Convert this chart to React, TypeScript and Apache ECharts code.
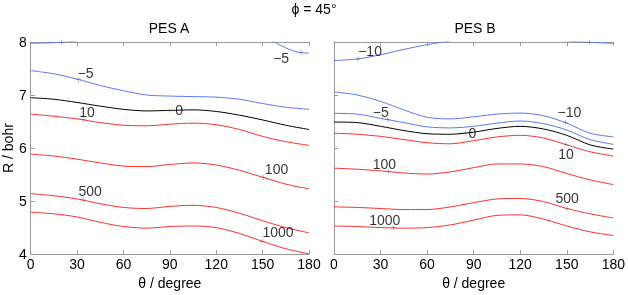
import React, { useEffect, useRef } from "react";
import * as echarts from "echarts";

// Tick labels
const thetaTicks = [0, 30, 60, 90, 120, 150, 180];
const rTicks = [4, 5, 6, 7, 8];

// PES A contour lines: [theta (deg), R (bohr)]
const aTopLeft = [[0, 7.975], [10, 7.982], [20, 7.995], [30, 8.02]];
const aMinus5Right = [[156, 8.02], [160, 7.96], [165, 7.89], [170, 7.83], [175, 7.8], [180, 7.79]];
const aMinus5 = [[0, 7.46], [15, 7.4], [30, 7.3], [45, 7.18], [60, 7.08], [75, 7.0], [90, 6.98], [105, 6.97], [120, 6.96], [135, 6.92], [150, 6.84], [165, 6.77], [180, 6.73]];
const aZero = [[0, 6.95], [15, 6.92], [30, 6.86], [45, 6.79], [60, 6.73], [75, 6.7], [90, 6.71], [105, 6.72], [120, 6.69], [135, 6.62], [150, 6.53], [165, 6.43], [180, 6.35]];
const aTen = [[0, 6.64], [15, 6.6], [30, 6.55], [45, 6.48], [60, 6.43], [75, 6.42], [90, 6.45], [105, 6.47], [120, 6.44], [135, 6.35], [150, 6.22], [165, 6.12], [180, 6.05]];
const aHundred = [[0, 5.885], [15, 5.85], [30, 5.79], [45, 5.72], [60, 5.66], [75, 5.65], [90, 5.69], [105, 5.72], [120, 5.68], [135, 5.58], [150, 5.45], [165, 5.32], [180, 5.23]];
const aFiveHundred = [[0, 5.14], [15, 5.1], [30, 5.04], [45, 4.95], [60, 4.88], [75, 4.86], [90, 4.9], [105, 4.92], [120, 4.88], [135, 4.77], [150, 4.63], [165, 4.5], [180, 4.4]];
const aThousand = [[0, 4.79], [15, 4.76], [30, 4.7], [45, 4.6], [60, 4.52], [75, 4.49], [90, 4.52], [105, 4.53], [120, 4.5], [135, 4.39], [150, 4.24], [165, 4.1], [180, 4.005]];

// PES B contour lines
const bMinus10Top = [[0, 7.65], [15, 7.68], [30, 7.76], [45, 7.86], [60, 7.95], [75, 8.02]];
const bMinus10TopRight = [[145, 8.03], [155, 8.01], [165, 7.995], [180, 7.975]];
const bMinus10 = [[0, 7.06], [15, 7.0], [30, 6.88], [45, 6.72], [60, 6.58], [75, 6.55], [90, 6.59], [105, 6.64], [120, 6.66], [135, 6.61], [150, 6.47], [165, 6.28], [180, 6.21]];
const bMinus5 = [[0, 6.655], [15, 6.64], [30, 6.56], [45, 6.48], [60, 6.4], [75, 6.38], [90, 6.41], [105, 6.47], [120, 6.51], [135, 6.46], [150, 6.34], [165, 6.16], [180, 6.07]];
const bZero = [[0, 6.49], [15, 6.48], [30, 6.41], [45, 6.33], [60, 6.27], [75, 6.26], [90, 6.3], [105, 6.37], [120, 6.41], [135, 6.36], [150, 6.24], [165, 6.06], [180, 5.98]];
const bTen = [[0, 6.28], [15, 6.26], [30, 6.22], [45, 6.16], [60, 6.1], [75, 6.08], [90, 6.14], [105, 6.21], [120, 6.24], [135, 6.19], [150, 6.06], [165, 5.93], [180, 5.85]];
const bHundred = [[0, 5.62], [15, 5.6], [30, 5.57], [45, 5.53], [60, 5.51], [75, 5.55], [90, 5.63], [105, 5.7], [120, 5.7], [135, 5.65], [150, 5.52], [165, 5.4], [180, 5.31]];
const bFiveHundred = [[0, 4.89], [15, 4.88], [30, 4.86], [45, 4.84], [60, 4.84], [75, 4.89], [90, 4.97], [105, 5.04], [120, 5.05], [135, 4.99], [150, 4.86], [165, 4.76], [180, 4.68]];
const bThousand = [[0, 4.53], [15, 4.52], [30, 4.5], [45, 4.49], [60, 4.5], [75, 4.55], [90, 4.64], [105, 4.73], [120, 4.74], [135, 4.66], [150, 4.53], [165, 4.42], [180, 4.35]];

// Contour labels: [theta, R, text]
const aLabels = [[19.9, 7.99, ""], [174.9, 7.8, "−5"], [31, 7.29, "−5"], [89.6, 6.71, "0"], [33.9, 6.54, "10"], [150.6, 5.445, "100"], [33.9, 5.02, "500"], [149.6, 4.24, "1000"]];
const bLabels = [[15.5, 7.68, "−10"], [164.5, 7.995, ""], [34.7, 6.54, "−5"], [84.7, 6.285, "0"], [149.1, 6.48, "−10"], [149.5, 6.065, "10"], [35.1, 5.56, "100"], [150.2, 4.86, "500"], [38.5, 4.495, "1000"]];
// label offsets (pixels) from marker
const aLabelOffsets = [[0, 0], [-20, 5], [7, -7], [10, 0], [4, -7], [13, -8], [7, -9], [16, -9]];
const bLabelOffsets = [[12, -8], [0, 0], [-7, -7], [7, 0], [4, -11], [0, 9], [-4, -7], [0, -10], [-9, -8]];

const BLUE = "#5a78f8";
const RED = "#ff3030";
const BLACK = "#000000";
const AXIS = "#9a9a9a";
const FONT = "Liberation Sans, Arial, Helvetica, sans-serif";
const FS = 14;
const PLUS = "path://M0,4.5h10v1h-10z M4.5,0h1v10h-1z";

export default function App() {
  const ref = useRef<HTMLDivElement>(null);
  useEffect(() => {
    if (!ref.current) return;
    const chart = echarts.init(ref.current, undefined, { renderer: "svg" });

    const lineSeries = (data: number[][], color: string, idx: number) => ({
      type: "line",
      data,
      xAxisIndex: idx,
      yAxisIndex: idx,
      smooth: 0.3,
      showSymbol: false,
      symbol: "none",
      clip: true,
      lineStyle: { color, width: 1 },
      z: 2,
    });

    const labelSeries = (labels: any[][], offsets: number[][], idx: number) => ({
      type: "scatter",
      xAxisIndex: idx,
      yAxisIndex: idx,
      symbol: PLUS,
      symbolSize: 5,
      itemStyle: { color: "#555" },
      z: 5,
      data: labels.map((l, i) => ({
        value: [l[0], l[1]],
        label: {
          show: l[2] !== "",
          formatter: l[2] as string,
          position: "inside",
          offset: offsets[i],
          color: "#000",
          fontSize: FS,
          fontFamily: FONT,
        },
      })),
    });

    const xAxisBottom = (idx: number) => ({
      type: "value",
      gridIndex: idx,
      min: 0,
      max: 180,
      interval: 30,
      position: "bottom",
      name: "θ / degree",
      nameLocation: "middle",
      nameGap: 20,
      nameTextStyle: { color: "#000", fontSize: FS, fontFamily: FONT },
      axisLine: { show: true, lineStyle: { color: AXIS, width: 1 } },
      axisTick: { show: true, inside: true, length: 4, lineStyle: { color: AXIS } },
      axisLabel: { color: "#000", fontSize: FS, fontFamily: FONT, margin: 3, formatter: (v: number) => (thetaTicks.includes(v) ? String(v) : "") },
      splitLine: { show: false },
    });
    const xAxisTop = (idx: number) => ({
      type: "value",
      gridIndex: idx,
      min: 0,
      max: 180,
      interval: 30,
      position: "top",
      axisLine: { show: true, lineStyle: { color: AXIS, width: 1 } },
      axisTick: { show: true, inside: true, length: 4, lineStyle: { color: AXIS } },
      axisLabel: { show: false },
      splitLine: { show: false },
    });
    const yAxisLeft = (idx: number, showLabels: boolean) => ({
      type: "value",
      gridIndex: idx,
      min: 4,
      max: 8,
      interval: 1,
      position: "left",
      name: showLabels ? "R / bohr" : "",
      nameLocation: "middle",
      nameGap: 14,
      nameRotate: 90,
      nameTextStyle: { color: "#000", fontSize: FS, fontFamily: FONT },
      axisLine: { show: true, lineStyle: { color: AXIS, width: 1 } },
      axisTick: { show: true, inside: true, length: 4, lineStyle: { color: AXIS } },
      axisLabel: { show: showLabels, color: "#000", fontSize: FS, fontFamily: FONT, margin: 4, formatter: (v: number) => (rTicks.includes(v) ? String(v) : "") },
      splitLine: { show: false },
    });
    const yAxisRight = (idx: number) => ({
      type: "value",
      gridIndex: idx,
      min: 4,
      max: 8,
      interval: 1,
      position: "right",
      axisLine: { show: true, lineStyle: { color: AXIS, width: 1 } },
      axisTick: { show: false },
      axisLabel: { show: false },
      splitLine: { show: false },
    });

    chart.setOption({
      animation: false,
      textStyle: { fontFamily: FONT },
      grid: [
        { left: 29, top: 42, width: 280, height: 215 },
        { left: 334, top: 42, width: 282, height: 215 },
      ],
      xAxis: [xAxisBottom(0), xAxisBottom(1), xAxisTop(0), xAxisTop(1)],
      yAxis: [yAxisLeft(0, true), yAxisLeft(1, false), yAxisRight(0), yAxisRight(1)],
      graphic: [
        { type: "text", x: 314, y: 9, style: { text: "ϕ = 45°", fontSize: FS, fontFamily: FONT, fill: "#000", textAlign: "center", textVerticalAlign: "middle" } },
        { type: "text", x: 169, y: 28, style: { text: "PES A", fontSize: FS, fontFamily: FONT, fill: "#000", textAlign: "center", textVerticalAlign: "middle" } },
        { type: "text", x: 475, y: 28, style: { text: "PES B", fontSize: FS, fontFamily: FONT, fill: "#000", textAlign: "center", textVerticalAlign: "middle" } },
      ],
      series: [
        lineSeries(aTopLeft, BLUE, 0),
        lineSeries(aMinus5Right, BLUE, 0),
        lineSeries(aMinus5, BLUE, 0),
        lineSeries(aZero, BLACK, 0),
        lineSeries(aTen, RED, 0),
        lineSeries(aHundred, RED, 0),
        lineSeries(aFiveHundred, RED, 0),
        lineSeries(aThousand, RED, 0),
        lineSeries(bMinus10Top, BLUE, 1),
        lineSeries(bMinus10TopRight, BLUE, 1),
        lineSeries(bMinus10, BLUE, 1),
        lineSeries(bMinus5, BLUE, 1),
        lineSeries(bZero, BLACK, 1),
        lineSeries(bTen, RED, 1),
        lineSeries(bHundred, RED, 1),
        lineSeries(bFiveHundred, RED, 1),
        lineSeries(bThousand, RED, 1),
        labelSeries(aLabels, aLabelOffsets, 0),
        labelSeries(bLabels, bLabelOffsets, 1),
      ],
    });
    return () => chart.dispose();
  }, []);
  return <div ref={ref} style={{ position: "fixed", left: 0, top: 0, width: 628, height: 295 }} />;
}
